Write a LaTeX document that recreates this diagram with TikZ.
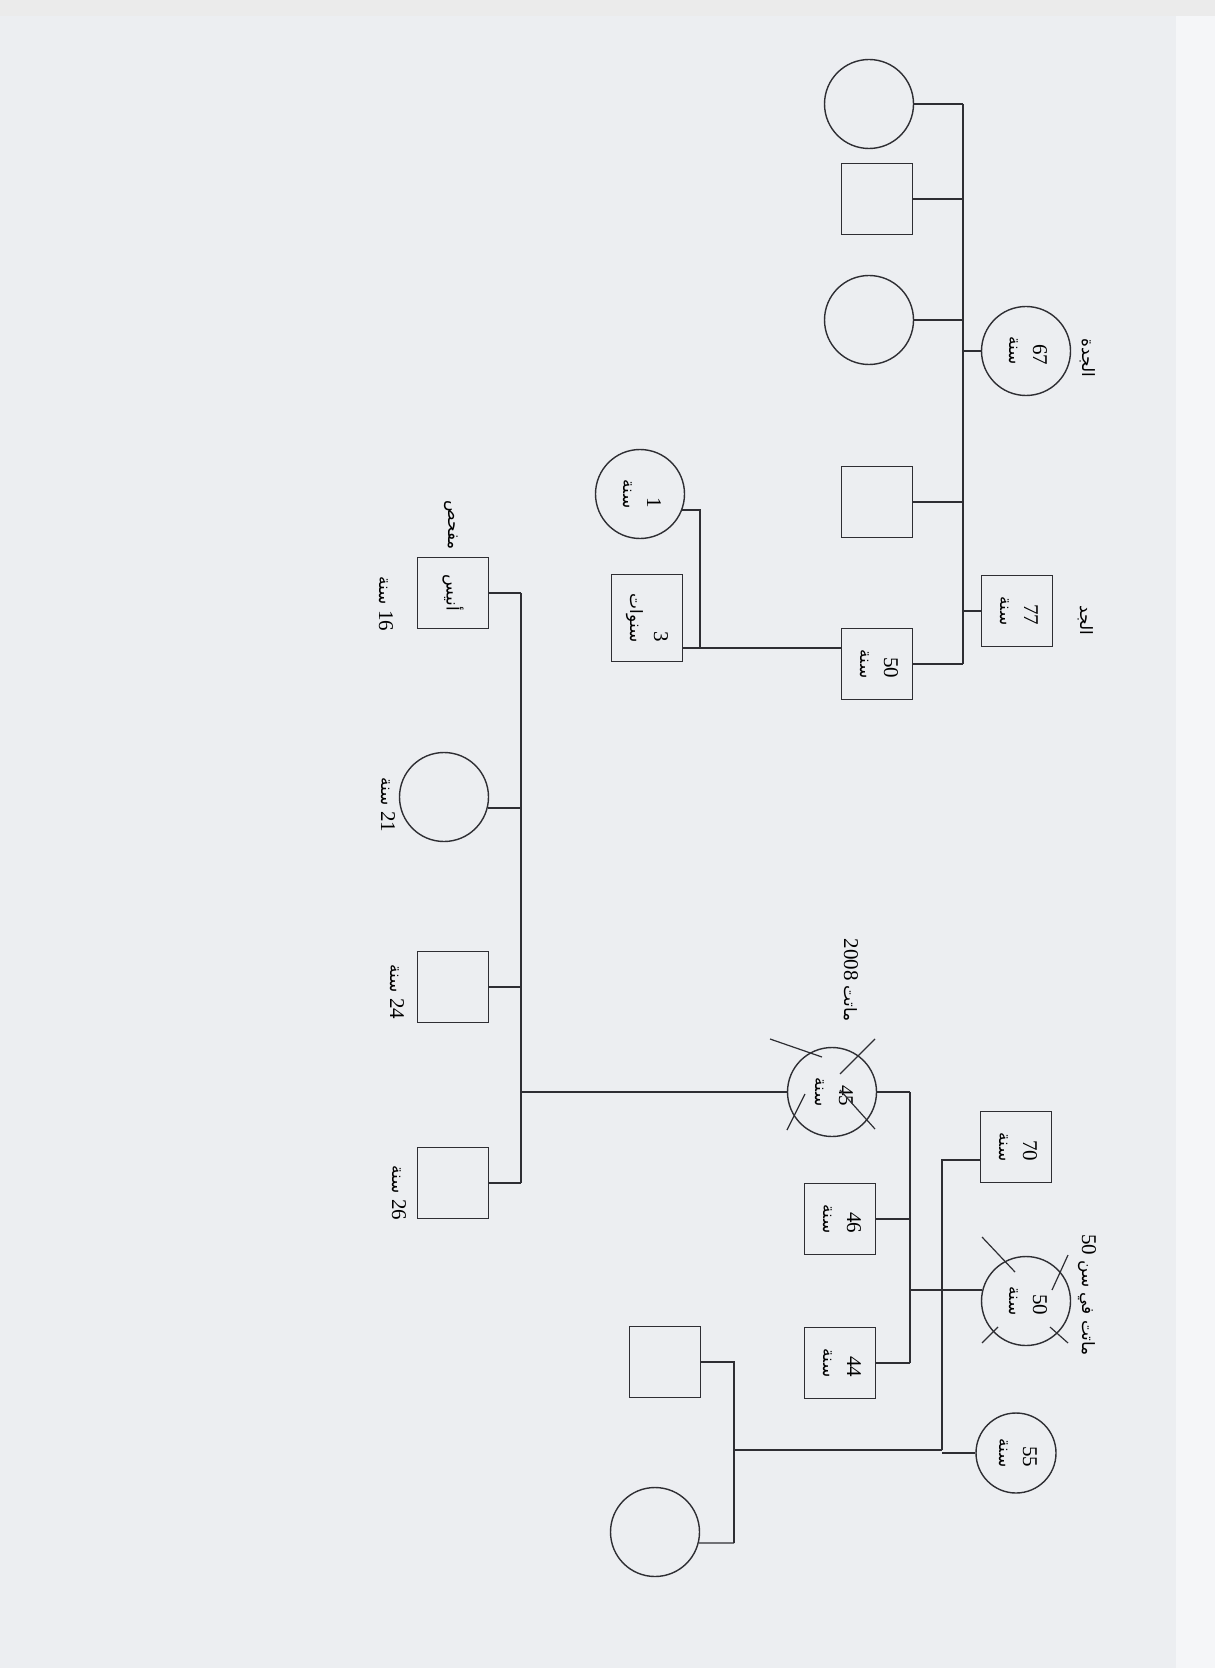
\documentclass[tikz,border=0pt]{standalone}
\usepackage{fontspec}
\usepackage{graphicx}
\setmainfont{Liberation Serif}
\newfontfamily\arfont[Script=Arabic]{DejaVu Sans}
\newcommand{\ar}[1]{{\arfont\fontsize{8.5}{10}\selectfont #1}}
\newcommand{\rtx}[1]{\rotatebox[origin=c]{-90}{\begin{tabular}{@{}r@{}}#1\end{tabular}}}
\usetikzlibrary{calc}
\definecolor{bgc}{HTML}{ECEEF1}
\definecolor{bgr}{HTML}{F5F6F8}
\definecolor{lnc}{HTML}{2E2E33}
\begin{document}
\begin{tikzpicture}[x=0.5pt,y=-0.5pt,
  ln/.style={draw=lnc,line width=0.7pt},
  sq/.style={draw=lnc,line width=0.7pt,minimum width=35.5pt,minimum height=35.5pt,inner sep=0pt,font=\fontsize{10.5}{12}\selectfont},
  rc/.style={sq,minimum height=43.5pt},
  cir/.style={circle,draw=lnc,line width=0.7pt,minimum size=44.5pt,inner sep=0pt,font=\fontsize{10.5}{12}\selectfont},
  lab/.style={inner sep=0pt,font=\fontsize{10.5}{12}\selectfont},
  xm/.style={draw=lnc,line width=0.6pt}]
\useasboundingbox (0,0) rectangle (1215,1668);
\fill[bgc] (0,0) rectangle (1215,1668);
\fill[bgr] (1176,0) rectangle (1215,1668);
\fill[black!8] (0,0) rectangle (1215,16);

% grandparents (father side)
\node[cir] (cA) at (869,104) {};
\node[sq] (sB) at (877,199) {};
\node[cir] (cC) at (869,320) {};
\node[sq] (sD) at (877,502) {};
\node[cir] (gm) at (1026,351) {\rtx{67\\\ar{سنة}}};
\node[sq] (gf) at (1017,611) {\rtx{77\\\ar{سنة}}};
\node[lab] (gmL) at (1087,358) {\rtx{\ar{الجدة}}};
\node[lab] (gfL) at (1085,620) {\rtx{\ar{الجد}}};
\node[sq] (fa) at (877,664) {\rtx{50\\\ar{سنة}}};
\coordinate (b1t) at (963,104);
\coordinate (b1b) at (963,664);
\draw[ln] (b1t) -- (b1b);
\draw[ln] (cA.east) -- (cA.east -| b1t);
\draw[ln] (sB.east) -- (sB.east -| b1t);
\draw[ln] (cC.east) -- (cC.east -| b1t);
\draw[ln] (sD.east) -- (sD.east -| b1t);
\draw[ln] (gm.west) -- (gm.west -| b1t);
\draw[ln] (gf.west) -- (gf.west -| b1t);
\draw[ln] (fa.east) -- (b1b);

% father's second family
\node[cir] (c1) at (640,494) {\rtx{1\\\ar{سنة}}};
\node[rc] (s3) at (647,618) {\rtx{3\\\ar{سنوات}}};
\coordinate (b2) at (700,648);
\draw[ln] (fa.west |- b2) -- (s3.east |- b2);
\draw[ln] (c1.-21) -| (b2);

% children
\node[sq] (pt) at (453,593) {\rotatebox[origin=c]{-90}{\ar{أنيس}}};
\node[lab] (ptL) at (453,525) {\rtx{\ar{مفحص}}};
\node[lab] (ptA) at (384,604) {\rtx{\ar{سنة} 16}};
\node[cir] (c21) at (444,797) {};
\node[lab] (c21A) at (386,805) {\rtx{\ar{سنة} 21}};
\node[sq] (s24) at (453,987) {};
\node[lab] (s24A) at (395,992) {\rtx{\ar{سنة} 24}};
\node[sq] (s26) at (453,1183) {};
\node[lab] (s26A) at (397,1193) {\rtx{\ar{سنة} 26}};
\coordinate (b3t) at (521,593);
\coordinate (b3b) at (521,1183);
\draw[ln] (b3t) -- (b3b);
\draw[ln] ($(fa.west)+(0,18)$) -- ($(fa.west)+(0,18)$ -| b3t);
\draw[ln] (pt.east) -- (b3t);
\draw[ln] (c21.-14) -- (c21.-14 -| b3t);
\draw[ln] (s24.east) -- (s24.east -| b3t);
\draw[ln] (s26.east) -- (b3b);

% mother
\node[cir] (mo) at (832,1092) {\rtx{45\\\ar{سنة}}};
\node[lab] (moL) at (849,980) {\rtx{2008 \ar{ماتت}}};
\draw[ln] (mo.west) -- (mo.west -| b3t);
\draw[xm] ($(mo)+(-62,-53)$) -- ($(mo)+(-10,-35)$);
\draw[xm] ($(mo)+(43,-53)$) -- ($(mo)+(8,-18)$);
\draw[xm] ($(mo)+(-45,38)$) -- ($(mo)+(-27,2)$);
\draw[xm] ($(mo)+(8,-2)$) -- ($(mo)+(43,37)$);

% mother's family
\node[sq] (gf2) at (1016,1147) {\rtx{70\\\ar{سنة}}};
\node[cir] (gm2) at (1026,1301) {\rtx{50\\\ar{سنة}}};
\node[lab] (gm2L) at (1087,1295) {\rtx{50 \ar{سن} \ar{في} \ar{ماتت}}};
\draw[xm] ($(gm2)+(-44,-64)$) -- ($(gm2)+(-11,-29)$);
\draw[xm] ($(gm2)+(42,-46)$) -- ($(gm2)+(26,-11)$);
\draw[xm] ($(gm2)+(-44,42)$) -- ($(gm2)+(-28,26)$);
\draw[xm] ($(gm2)+(42,42)$) -- ($(gm2)+(24,26)$);
\node[sq] (s46) at (840,1219) {\rtx{46\\\ar{سنة}}};
\node[sq] (s44) at (840,1363) {\rtx{44\\\ar{سنة}}};
\coordinate (b4t) at (910,1092);
\coordinate (b4b) at (910,1363);
\draw[ln] (b4t) -- (b4b);
\draw[ln] (mo.east) -- (b4t);
\draw[ln] ($(gf2.west)+(0,-18)$) -- ($(gf2.west)+(0,-18)$ -| b4t);
\draw[ln] (gm2.166) -- (gm2.166 -| b4t);
\draw[ln] (s46.east) -- (s46.east -| b4t);
\draw[ln] (s44.east) -- (b4b);

\node[cir,minimum size=40pt] (c55) at (1016,1453) {\rtx{55\\\ar{سنة}}};
\coordinate (b5t) at (942,1160);
\coordinate (b5b) at (942,1450);
\draw[ln] ($(gf2.west)+(0,13)$) -- (b5t) -- (b5b);
\draw[ln] (c55.west) -- (c55.west -| b5b);

\node[sq] (su) at (665,1362) {};
\node[cir] (cu) at (655,1532) {};
\coordinate (b6t) at (734,1362);
\coordinate (b6b) at (734,1543);
\draw[ln] (b5b) -- (b5b -| b6t);
\draw[ln] (su.east) -- (b6t) -- (b6b);
\draw[ln] (cu.-14) -- (b6b);
\end{tikzpicture}
\end{document}
